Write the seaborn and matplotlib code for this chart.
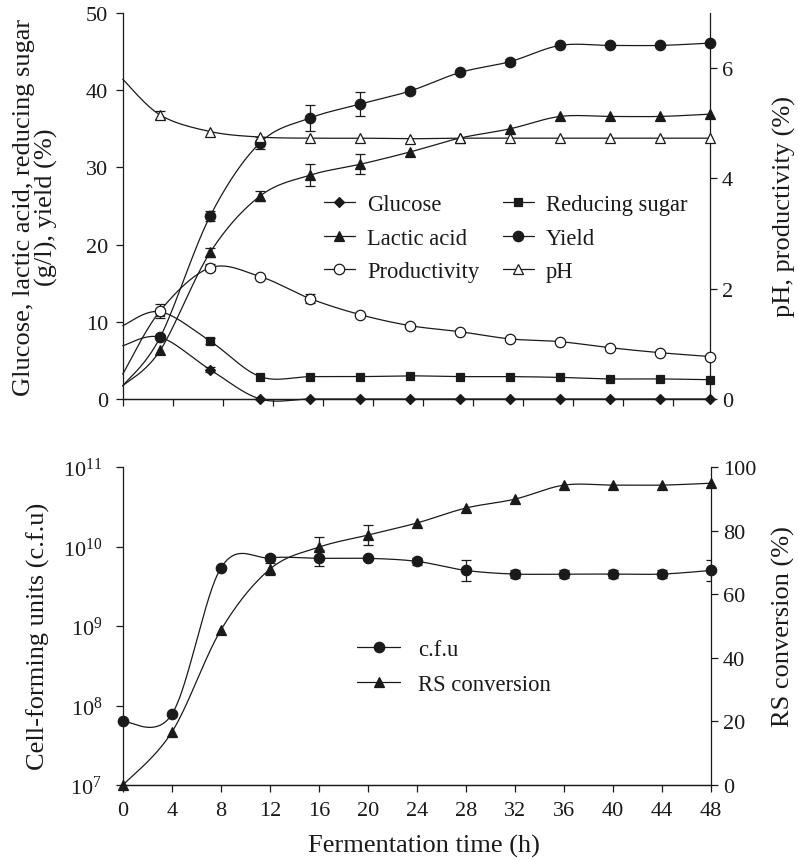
import numpy as np
import matplotlib
matplotlib.use("Agg")
import matplotlib.pyplot as plt
import seaborn as sns
from matplotlib.lines import Line2D
from matplotlib.ticker import LogLocator, LogFormatterMathtext, NullLocator

# ---------------- data ----------------
top_time = [0, 3, 7, 11, 15, 19, 23, 27, 31, 35, 39, 43, 47]
glucose = [6.9, 8.0, 3.8, 0.0, 0.0, 0.0, 0.0, 0.0, 0.0, 0.0, 0.0, 0.0, 0.0]
reducing_sugar = [9.5, 11.3, 7.5, 2.9, 2.9, 2.9, 3.0, 2.9, 2.9, 2.8, 2.6, 2.6, 2.5]
lactic_acid = [1.7, 6.3, 19.0, 26.3, 29.0, 30.4, 32.0, 33.8, 35.0, 36.6, 36.6, 36.6, 36.9]
yield_pct = [1.7, 8.0, 23.7, 33.2, 36.4, 38.2, 39.9, 42.3, 43.7, 45.8, 45.8, 45.8, 46.1]
productivity = [0.45, 1.60, 2.38, 2.22, 1.82, 1.53, 1.33, 1.22, 1.09, 1.04, 0.93, 0.84, 0.77]
ph = [5.8, 5.15, 4.85, 4.75, 4.73, 4.73, 4.72, 4.73, 4.73, 4.73, 4.73, 4.73, 4.73]

err_glucose = [0, 0, 0.3, 0, 0, 0, 0, 0, 0, 0, 0, 0, 0]
err_reducing = [0, 0, 0.4, 0, 0, 0, 0, 0, 0, 0, 0, 0, 0]
err_lactic = [0, 0, 0.6, 0.6, 1.4, 1.3, 0, 0, 0, 0, 0, 0, 0]
err_yield = [0, 0, 0.6, 0.8, 1.7, 1.6, 0.4, 0, 0.4, 0, 0, 0, 0]
err_productivity = [0, 0.13, 0.06, 0, 0.08, 0, 0, 0, 0, 0, 0, 0, 0]
err_ph = [0, 0.07, 0, 0, 0, 0, 0, 0, 0, 0, 0, 0, 0]

bottom_time = [0, 4, 8, 12, 16, 20, 24, 28, 32, 36, 40, 44, 48]
cfu = [6.3e7, 7.8e7, 5.4e9, 7.2e9, 7.1e9, 7.1e9, 6.5e9, 5.0e9, 4.5e9, 4.5e9, 4.5e9, 4.5e9, 5.0e9]
cfu_err_dec = [0, 0, 0, 0.04, 0.10, 0.02, 0.04, 0.13, 0.05, 0.05, 0.05, 0.05, 0.13]
rs_conversion = [0, 16.7, 48.8, 67.9, 74.8, 78.6, 82.4, 87.1, 89.9, 94.3, 94.3, 94.3, 94.9]
rs_err = [0, 0, 0, 2.0, 3.2, 3.2, 0, 0, 0, 0, 0, 0, 0]

bottom_ticks = [0, 4, 8, 12, 16, 20, 24, 28, 32, 36, 40, 44, 48]

# ---------------- style ----------------
sns.set_theme(style="ticks")
plt.rcParams["font.family"] = ["Liberation Serif", "DejaVu Serif"]
plt.rcParams["mathtext.fontset"] = "custom"
plt.rcParams["mathtext.rm"] = "Liberation Serif"
plt.rcParams["mathtext.it"] = "Liberation Serif:italic"
plt.rcParams["mathtext.bf"] = "Liberation Serif:bold"

INK = "#1a1a1a"
LW = 0.9
TICK_FS = 16
LABEL_FS = 19
LEG_FS = 16.3

fig = plt.figure(figsize=(7.98, 8.62), dpi=100)
W, H = 798.0, 862.0
ax1 = fig.add_axes([122.7 / W, 1 - 400 / H, (710 - 122.7) / W, (400 - 14) / H])
ax1r = ax1.twinx()
ax2 = fig.add_axes([123 / W, 1 - 786 / H, (711 - 123) / W, (786 - 468) / H])
ax2r = ax2.twinx()

for a in (ax1, ax1r, ax2, ax2r):
    a.set_facecolor("none")
    a.spines["top"].set_visible(False)
    for s in ("left", "right", "bottom"):
        a.spines[s].set_color(INK)
        a.spines[s].set_linewidth(0.9)
    a.tick_params(direction="out", length=5, width=0.9, color=INK,
                  labelsize=TICK_FS, labelcolor=INK)
ax1.spines["right"].set_visible(False)
ax2.spines["right"].set_visible(False)
ax1r.spines["left"].set_visible(False)
ax2r.spines["left"].set_visible(False)
ax1.tick_params(axis="y", pad=5.5)
ax2.tick_params(axis="y", pad=10)
ax2.tick_params(axis="x", pad=6.5)

ax1.set_xlim(0, 47)
ax1.set_ylim(0, 50)
ax1r.set_ylim(0, 7)
ax1.set_xticks(np.arange(0, 45, 4))
ax1.set_xticklabels([])
ax1.set_yticks([0, 10, 20, 30, 40, 50])
ax1r.set_yticks([0, 2, 4, 6])

ax2.set_xlim(0, 48)
ax2.set_yscale("log")
ax2.set_ylim(1e7, 1e11)
ax2.yaxis.set_major_locator(LogLocator(base=10, numticks=10))
ax2.yaxis.set_major_formatter(LogFormatterMathtext())
ax2.yaxis.set_minor_locator(NullLocator())
ax2r.set_ylim(0, 100)
ax2r.set_yticks([0, 20, 40, 60, 80, 100])
ax2.set_xticks(bottom_ticks)
ax2.set_xticklabels([str(t) for t in bottom_ticks])


def smooth(ax, x, y, n=40):
    """Excel-like smoothed line through the data points (built in display space)."""
    pts = ax.transData.transform(np.column_stack([x, y]).astype(float))
    P = np.vstack([pts[0], pts, pts[-1]])
    out = []
    t = np.linspace(0, 1, n)[:, None]
    for i in range(1, len(P) - 2):
        p0, p1, p2, p3 = P[i - 1], P[i], P[i + 1], P[i + 2]
        c1 = p1 + (p2 - p0) / 6.0
        c2 = p2 - (p3 - p1) / 6.0
        seg = (1 - t) ** 3 * p1 + 3 * (1 - t) ** 2 * t * c1 + 3 * (1 - t) * t ** 2 * c2 + t ** 3 * p2
        out.append(seg if i == 1 else seg[1:])
    d = ax.transData.inverted().transform(np.vstack(out))
    return d[:, 0], d[:, 1]


def series(ax, x, y, err, marker, ms, filled, start=1, log_err=False):
    sx, sy = smooth(ax, x, y)
    sns.lineplot(x=sx, y=sy, ax=ax, color=INK, lw=LW, sort=False, estimator=None,
                 clip_on=False, zorder=3)
    x = np.asarray(x, float)
    y = np.asarray(y, float)
    e = np.asarray(err, float)
    m = e > 0
    if m.any():
        if log_err:
            lo = y[m] - y[m] / 10 ** e[m]
            hi = y[m] * 10 ** e[m] - y[m]
            yerr = [lo, hi]
        else:
            yerr = e[m]
        ax.errorbar(x[m], y[m], yerr=yerr, fmt="none", ecolor=INK, elinewidth=0.9,
                    capsize=3.5, capthick=0.9, zorder=4)
    ax.plot(x[start:], y[start:], ls="none", marker=marker, ms=ms,
            mfc=INK if filled else "white", mec=INK, mew=0.9, zorder=5, clip_on=False)


# top panel
series(ax1, top_time, glucose, err_glucose, "D", 5.2, True)
series(ax1, top_time, reducing_sugar, err_reducing, "s", 6.0, True)
series(ax1, top_time, lactic_acid, err_lactic, "^", 7.5, True)
series(ax1, top_time, yield_pct, err_yield, "o", 7.5, True)
series(ax1r, top_time, productivity, err_productivity, "o", 7.5, False)
series(ax1r, top_time, ph, err_ph, "^", 7.5, False)

# bottom panel
series(ax2, bottom_time, cfu, cfu_err_dec, "o", 7.5, True, start=0, log_err=True)
series(ax2r, bottom_time, rs_conversion, rs_err, "^", 7.5, True, start=0)

# labels
ax1.set_ylabel("Glucose, lactic acid, reducing sugar\n(g/l), yield (%)",
               fontsize=LABEL_FS, color=INK, linespacing=1.0)
ax1.yaxis.set_label_coords(-0.110, 0.5)
ax1r.set_ylabel("pH, productivity (%)", fontsize=LABEL_FS, color=INK)
ax1r.yaxis.set_label_coords(1.107, 0.5)
ax2.set_ylabel("Cell-forming units (c.f.u)", fontsize=LABEL_FS, color=INK)
ax2.yaxis.set_label_coords(-0.124, 0.47)
ax2r.set_ylabel("RS conversion (%)", fontsize=LABEL_FS, color=INK)
ax2r.yaxis.set_label_coords(1.104, 0.5)
ax2.set_xlabel("Fermentation time (h)", fontsize=LABEL_FS, color=INK)
ax2.xaxis.set_label_coords(0.512, -0.154)


def h(marker, ms, filled):
    return Line2D([], [], color=INK, lw=LW, marker=marker, ms=ms,
                  mfc=INK if filled else "white", mec=INK, mew=0.9)


leg1 = fig.legend(
    [h("D", 5.2, True), h("^", 7.5, True), h("o", 7.5, False),
     h("s", 6.0, True), h("o", 7.5, True), h("^", 7.5, False)],
    ["Glucose", "Lactic acid", "Productivity", "Reducing sugar", "Yield", "pH"],
    ncol=2, frameon=False, fontsize=LEG_FS, loc="upper left",
    bbox_to_anchor=(324 / W, 1 - 195 / H), borderpad=0, borderaxespad=0,
    handlelength=1.35, handletextpad=0.55, labelspacing=0.56, columnspacing=1.05)
for t in leg1.get_texts():
    t.set_color(INK)

leg2 = fig.legend(
    [h("o", 7.5, True), h("^", 7.5, True)],
    ["c.f.u", "RS conversion"],
    ncol=1, frameon=False, fontsize=LEG_FS, loc="upper left",
    bbox_to_anchor=(357 / W, 1 - 640 / H), borderpad=0, borderaxespad=0,
    handlelength=1.9, handletextpad=0.8, labelspacing=0.62)
for t in leg2.get_texts():
    t.set_color(INK)

fig.savefig("out.png", dpi=100, facecolor="white")
